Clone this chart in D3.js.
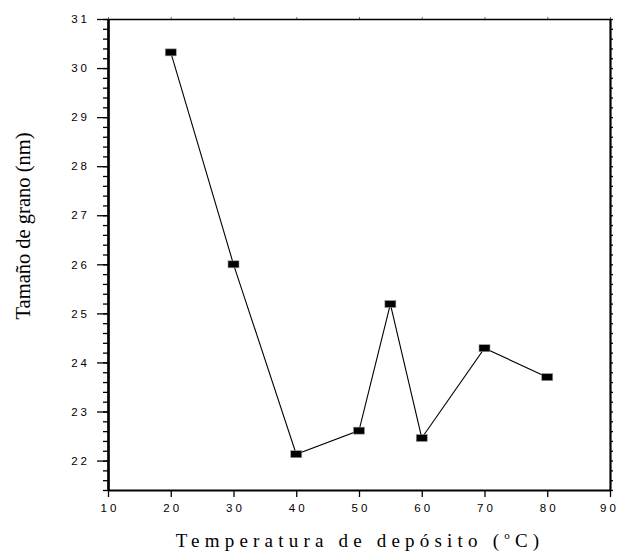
<!DOCTYPE html>
<html><head><meta charset="utf-8">
<script src="https://cdn.jsdelivr.net/npm/d3@7"></script>
<style>
body{margin:0;background:#fff;}
svg{display:block;}
</style></head>
<body>
<svg id="c" width="618" height="551"></svg>
<script>
const temps = [20, 30, 40, 50, 55, 60, 70, 80];
const grain = [30.32, 26.0, 22.13, 22.61, 25.19, 22.46, 24.29, 23.70];
const xTicks = [10, 20, 30, 40, 50, 60, 70, 80, 90];
const yTicks = [22, 23, 24, 25, 26, 27, 28, 29, 30, 31];
const xLabel = "Temperatura de depósito (";
const yLabel = "Tamaño de grano (nm)";

const svg = d3.select("#c");
const x = d3.scaleLinear().domain([10, 90]).range([108, 610]);
const y = d3.scaleLinear().domain([21.4, 31]).range([490, 19]);
const minorY = d3.range(21.4, 31.001, 0.2).map(v => +v.toFixed(1));

function styleAxis(g, w){
  g.select(".domain").attr("stroke", "#000").attr("stroke-width", w);
  g.selectAll(".tick line").attr("stroke", "#000").attr("stroke-width", 1.3);
  g.selectAll("text").attr("font-family", "Liberation Sans, Arial, sans-serif")
    .attr("font-size", 11.5).attr("letter-spacing", "3px").attr("fill", "#000");
}

// top axis
const gt = svg.append("g").attr("transform", `translate(0,${y(31)})`)
  .call(d3.axisTop(x).tickValues(xTicks).tickSize(2).tickSizeOuter(0).tickFormat(""));
styleAxis(gt, 1.5);
gt.selectAll(".tick line").attr("stroke", "#666").attr("stroke-width", 1);

// right axis minor
const gr = svg.append("g").attr("transform", `translate(${x(90)},0)`)
  .call(d3.axisRight(y).tickValues(minorY).tickSize(3).tickSizeOuter(0).tickFormat(""));
styleAxis(gr, 2.2);

// left axis minor
const glm = svg.append("g").attr("transform", `translate(${x(10)},0)`)
  .call(d3.axisLeft(y).tickValues(minorY).tickSize(5).tickSizeOuter(0).tickFormat(""));
styleAxis(glm, 2.2);
// left axis major
const gl = svg.append("g").attr("transform", `translate(${x(10)},0)`)
  .call(d3.axisLeft(y).tickValues(yTicks).tickSize(11).tickSizeOuter(0).tickPadding(10).tickFormat(d3.format("d")));
styleAxis(gl, 2.2);
gl.selectAll("text").attr("dx", "3px");

// bottom axis
const gb = svg.append("g").attr("transform", `translate(0,${y(21.4)})`)
  .call(d3.axisBottom(x).tickValues(xTicks).tickSize(7).tickSizeOuter(0).tickPadding(7).tickFormat(d3.format("d")));
styleAxis(gb, 2.2);
gb.selectAll("text").attr("dx", "1.5px");
gb.selectAll(".tick").filter(d => d === 90).select("text").attr("dx", "-1px");

const data = temps.map((t, i) => ({t, v: grain[i]}));
svg.append("path").datum(data)
  .attr("fill", "none").attr("stroke", "#000").attr("stroke-width", 1.1)
  .attr("d", d3.line().x(d => x(d.t)).y(d => y(d.v)));

svg.append("g").selectAll("rect").data(data).join("rect")
  .attr("x", d => x(d.t) - 5.5).attr("y", d => y(d.v) - 3.5)
  .attr("width", 11).attr("height", 7)
  .attr("fill", "#000").attr("stroke", "#999").attr("stroke-width", 0.6);

// y label
svg.append("text")
  .attr("transform", `translate(30,226) rotate(-90)`)
  .attr("text-anchor", "middle")
  .attr("font-family", "Liberation Serif, Times New Roman, serif")
  .attr("font-size", 20.5).attr("fill", "#000")
  .text(yLabel);

// x label
const xl = svg.append("text")
  .attr("x", 360).attr("y", 547)
  .attr("text-anchor", "middle")
  .attr("font-family", "Liberation Serif, Times New Roman, serif")
  .attr("font-size", 19).attr("letter-spacing", "5.2px").attr("fill", "#000");
xl.append("tspan").text(xLabel);
xl.append("tspan").attr("font-size", 11).attr("dy", "-8").text("o");
xl.append("tspan").attr("dy", "8").text("C)");
</script>
</body></html>
